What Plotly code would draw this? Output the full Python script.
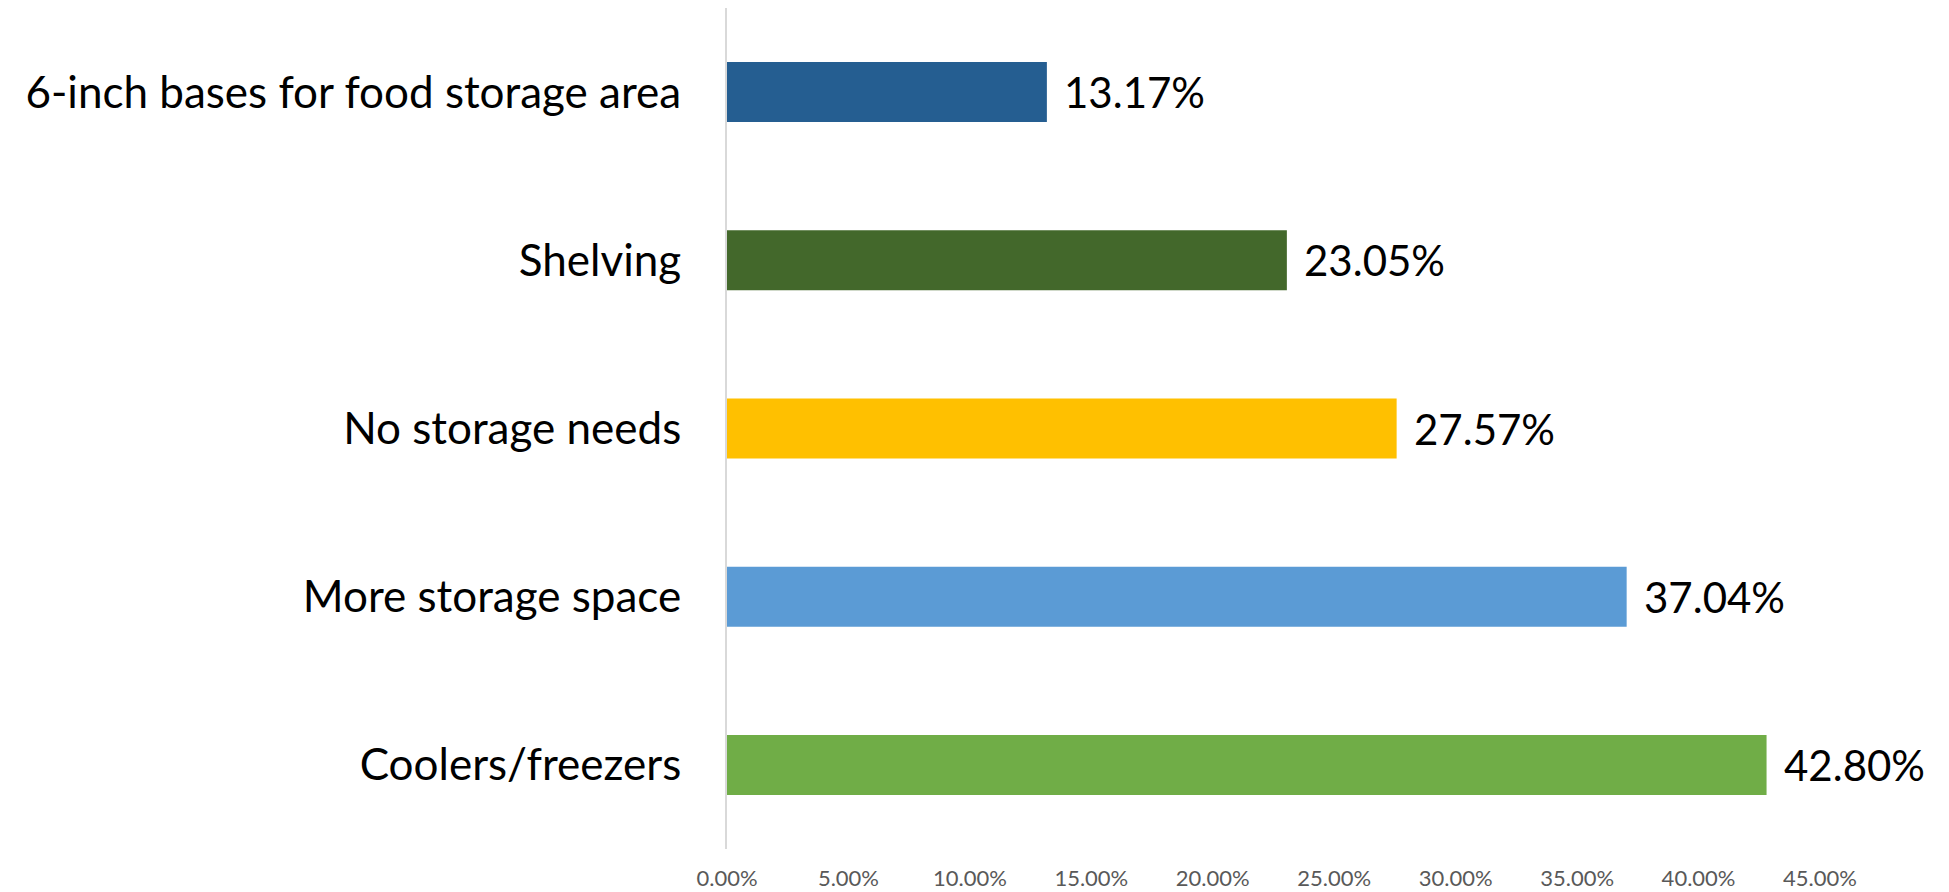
import plotly.graph_objects as go

# Storage needs reported, listed top to bottom
categories = [
    "6-inch bases for food storage area",
    "Shelving",
    "No storage needs",
    "More storage space",
    "Coolers/freezers",
]
shares = [0.1317, 0.2305, 0.2757, 0.3704, 0.4280]
bar_colors = ["#255E91", "#43682B", "#FFC000", "#5B9BD5", "#70AD47"]
tick_values = [0.00, 0.05, 0.10, 0.15, 0.20, 0.25, 0.30, 0.35, 0.40, 0.45]
tick_labels = [f"{v * 100:.2f}%" for v in tick_values]

FONT = "Lato, 'Open Sans', sans-serif"

fig = go.Figure(
    go.Bar(
        x=shares,
        y=categories,
        orientation="h",
        marker=dict(color=bar_colors, line=dict(width=0)),
        width=0.357,
        hoverinfo="skip",
    )
)

# value labels just right of each bar end
for cat, val in zip(categories, shares):
    fig.add_annotation(
        x=val,
        y=cat,
        text=f"{val * 100:.2f}%",
        showarrow=False,
        xanchor="left",
        yanchor="middle",
        xshift=15,
        font=dict(family=FONT, size=42, color="#000000"),
    )

fig.update_layout(
    width=1949,
    height=892,
    margin=dict(l=727, r=129, t=8, b=43, autoexpand=False),
    paper_bgcolor="#FFFFFF",
    plot_bgcolor="#FFFFFF",
    showlegend=False,
    font=dict(family=FONT),
    xaxis=dict(
        range=[0, 0.45],
        tickvals=tick_values,
        ticktext=tick_labels,
        showgrid=False,
        zeroline=False,
        showline=False,
        ticks="",
        automargin=False,
        ticklabelstandoff=14,
        tickfont=dict(family=FONT, size=22, color="#595959"),
    ),
    yaxis=dict(
        autorange="reversed",
        showgrid=False,
        zeroline=False,
        showline=True,
        linecolor="#D9D9D9",
        linewidth=2,
        ticks="",
        automargin=False,
        ticklabelstandoff=35,
        tickfont=dict(family=FONT, size=44, color="#000000"),
    ),
)

fig.write_html("out.html")
